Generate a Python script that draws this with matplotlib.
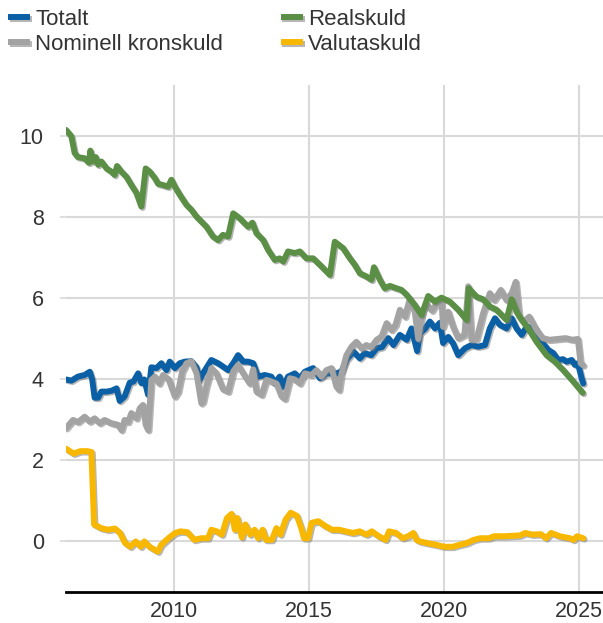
import matplotlib
matplotlib.use("Agg")
import matplotlib.pyplot as plt
import matplotlib.patheffects as pe

plt.rcParams['font.family'] = ['Liberation Sans', 'DejaVu Sans']

# ---- data ----
real_x = [2006.0, 2006.2, 2006.32, 2006.44, 2006.69, 2006.85, 2006.9, 2007.0, 2007.1, 2007.19,
          2007.31, 2007.5, 2007.68, 2007.8, 2007.89, 2008.05, 2008.24, 2008.42, 2008.61, 2008.79,
          2008.95, 2009.1, 2009.29, 2009.41, 2009.59, 2009.78, 2009.9, 2010.03, 2010.21, 2010.46,
          2010.64, 2010.83, 2010.95, 2011.2, 2011.44, 2011.63, 2011.81, 2012.0, 2012.19, 2012.43,
          2012.74, 2012.9, 2013.05, 2013.3, 2013.48, 2013.73, 2013.91, 2014.04, 2014.22, 2014.47,
          2014.66, 2014.9, 2015.15, 2015.46, 2015.77, 2015.95, 2016.26, 2016.51, 2016.69, 2016.88,
          2017.13, 2017.31, 2017.4, 2017.62, 2017.8, 2017.99, 2018.24, 2018.42, 2018.61, 2018.91,
          2019.16, 2019.41, 2019.66, 2019.9, 2020.21, 2020.52, 2020.83, 2020.91, 2021.2, 2021.44,
          2021.69, 2021.94, 2022.19, 2022.31, 2022.5, 2022.68, 2022.87, 2023.11, 2023.42, 2023.79,
          2024.1, 2024.41, 2024.78, 2025.13]
real_y = [10.16, 10.0, 9.59, 9.49, 9.46, 9.35, 9.65, 9.38, 9.49, 9.3,
          9.38, 9.21, 9.13, 9.05, 9.27, 9.13, 9.0, 8.8, 8.6, 8.27,
          9.21, 9.13, 8.97, 8.83, 8.8, 8.76, 8.93, 8.76, 8.56, 8.31,
          8.19, 8.02, 7.94, 7.77, 7.53, 7.44, 7.57, 7.53, 8.1, 7.98,
          7.77, 7.87, 7.61, 7.44, 7.2, 6.95, 6.99, 6.91, 7.16, 7.12,
          7.16, 6.99, 6.99, 6.79, 6.58, 7.4, 7.24, 6.99, 6.83, 6.62,
          6.54, 6.46, 6.77, 6.46, 6.25, 6.31, 6.25, 6.21, 6.09, 5.84,
          5.59, 6.06, 5.92, 6.02, 5.92, 5.72, 5.47, 6.25, 6.04, 5.98,
          5.8, 5.72, 5.55, 5.47, 5.98, 5.67, 5.47, 5.26, 4.93, 4.6,
          4.44, 4.23, 3.95, 3.67]

tot_x = [2006.0, 2006.2, 2006.44, 2006.69, 2006.88, 2006.97, 2007.06, 2007.19, 2007.31, 2007.5,
         2007.68, 2007.87, 2007.99, 2008.17, 2008.36, 2008.5, 2008.67, 2008.79, 2008.9, 2009.04,
         2009.16, 2009.35, 2009.53, 2009.72, 2009.84, 2010.03, 2010.21, 2010.4, 2010.64, 2010.83,
         2010.95, 2011.07, 2011.38, 2011.63, 2011.81, 2012.0, 2012.19, 2012.37, 2012.56, 2012.74,
         2012.93, 2013.11, 2013.36, 2013.6, 2013.73, 2013.91, 2014.04, 2014.22, 2014.47, 2014.66,
         2014.84, 2015.15, 2015.4, 2015.65, 2016.01, 2016.2, 2016.38, 2016.64, 2016.88, 2017.06,
         2017.3, 2017.5, 2017.7, 2017.93, 2018.12, 2018.36, 2018.61, 2018.79, 2019.0, 2019.1,
         2019.29, 2019.47, 2019.66, 2019.84, 2019.96, 2020.15, 2020.33, 2020.52, 2020.77, 2021.01,
         2021.26, 2021.51, 2021.69, 2021.88, 2022.06, 2022.31, 2022.5, 2022.68, 2022.87, 2023.05,
         2023.25, 2023.42, 2023.61, 2023.85, 2024.04, 2024.22, 2024.4, 2024.53, 2024.72, 2024.84,
         2024.95, 2025.09, 2025.15]
tot_y = [4.0, 3.97, 4.07, 4.11, 4.19, 4.0, 3.55, 3.55, 3.7, 3.7,
         3.72, 3.78, 3.47, 3.58, 3.92, 3.95, 4.15, 3.91, 4.0, 3.62,
         4.3, 4.28, 4.4, 4.23, 4.44, 4.28, 4.4, 4.44, 4.45, 4.3,
         3.99, 4.15, 4.48, 4.4, 4.32, 4.23, 4.4, 4.6, 4.44, 4.44,
         4.4, 4.07, 4.11, 4.07, 3.9, 4.07, 3.82, 4.07, 4.15, 4.03,
         4.19, 4.28, 4.03, 4.15, 4.15, 4.2, 4.48, 4.69, 4.52, 4.65,
         4.6, 4.77, 4.8, 5.02, 4.85, 5.1, 4.98, 5.26, 4.7, 5.14,
         5.25, 5.43, 5.26, 5.4, 4.9, 5.05, 4.89, 4.6, 4.77, 4.85,
         4.81, 4.85, 5.26, 5.51, 5.35, 5.26, 5.51, 5.26, 5.1, 5.3,
         5.28, 5.22, 4.93, 4.73, 4.65, 4.48, 4.5, 4.44, 4.48, 4.36,
         4.4, 4.03, 3.9]

nom_x = [2006.0, 2006.26, 2006.45, 2006.69, 2006.88, 2007.06, 2007.25, 2007.43, 2007.68, 2007.93,
         2008.05, 2008.17, 2008.3, 2008.42, 2008.61, 2008.73, 2008.85, 2008.95, 2009.04, 2009.16,
         2009.29, 2009.45, 2009.59, 2009.8, 2010.03, 2010.15, 2010.3, 2010.46, 2010.64, 2010.83,
         2011.01, 2011.07, 2011.2, 2011.38, 2011.57, 2011.81, 2012.0, 2012.19, 2012.37, 2012.56,
         2012.8, 2012.93, 2013.05, 2013.24, 2013.42, 2013.6, 2013.79, 2013.98, 2014.1, 2014.29,
         2014.47, 2014.66, 2014.84, 2015.09, 2015.27, 2015.46, 2015.64, 2015.83, 2016.01, 2016.11,
         2016.2, 2016.38, 2016.57, 2016.75, 2016.94, 2017.12, 2017.3, 2017.5, 2017.68, 2017.87,
         2018.05, 2018.2, 2018.36, 2018.55, 2018.73, 2018.91, 2019.04, 2019.2, 2019.35, 2019.55,
         2019.72, 2019.9, 2019.96, 2020.15, 2020.33, 2020.52, 2020.75, 2020.89, 2021.01, 2021.2,
         2021.44, 2021.69, 2021.85, 2022.1, 2022.3, 2022.5, 2022.65, 2022.78, 2022.95, 2023.15,
         2023.42, 2023.65, 2023.9, 2024.2, 2024.5, 2024.75, 2024.95, 2025.05, 2025.15]
nom_y = [2.8, 3.0, 2.95, 3.08, 2.96, 3.04, 2.92, 3.0, 2.92, 2.88,
         2.75, 3.0, 2.95, 3.17, 3.04, 3.29, 3.37, 2.88, 2.75, 3.99,
         4.07, 3.9, 4.11, 4.0, 3.58, 3.7, 4.2, 4.4, 4.45, 4.15,
         3.41, 3.45, 3.85, 4.28, 4.15, 3.76, 3.7, 4.2, 4.36, 4.15,
         3.9, 4.25, 3.7, 3.62, 3.99, 3.95, 3.9, 3.58, 3.52, 4.03,
         4.0, 3.9, 4.15, 4.11, 4.23, 4.07, 4.23, 4.28, 3.82, 3.74,
         4.15, 4.6, 4.81, 4.93, 4.77, 4.85, 4.8, 4.98, 5.06, 5.39,
         5.22, 5.35, 5.72, 5.55, 6.0, 5.67, 5.0, 5.7, 5.85, 5.7,
         5.88, 5.96, 5.3, 5.67, 5.3, 5.02, 5.1, 6.3, 4.98, 5.0,
         5.63, 6.13, 5.96, 6.21, 5.96, 6.13, 6.41, 5.55, 5.43, 5.55,
         5.22, 5.02, 4.98, 5.0, 5.02, 4.98, 5.0, 4.4, 4.35]

val_x = [2006.0, 2006.28, 2006.53, 2006.79, 2006.94, 2007.04, 2007.3, 2007.55, 2007.81, 2008.0,
         2008.19, 2008.38, 2008.58, 2008.77, 2008.9, 2009.09, 2009.4, 2009.53, 2009.79, 2010.04,
         2010.24, 2010.49, 2010.75, 2011.0, 2011.26, 2011.38, 2011.58, 2011.77, 2011.96, 2012.13,
         2012.25, 2012.34, 2012.51, 2012.64, 2012.82, 2012.98, 2013.11, 2013.28, 2013.4, 2013.62,
         2013.79, 2013.94, 2014.13, 2014.32, 2014.55, 2014.71, 2014.81, 2014.96, 2015.09, 2015.34,
         2015.6, 2015.85, 2016.11, 2016.36, 2016.62, 2016.87, 2017.13, 2017.32, 2017.58, 2017.83,
         2017.96, 2018.22, 2018.47, 2018.67, 2018.86, 2018.98, 2019.11, 2019.37, 2019.69, 2020.0,
         2020.32, 2020.58, 2020.83, 2021.09, 2021.34, 2021.66, 2021.85, 2022.24, 2022.81, 2023.0,
         2023.26, 2023.58, 2023.77, 2023.96, 2024.28, 2024.66, 2024.79, 2024.92, 2025.15]
val_y = [2.29, 2.17, 2.23, 2.23, 2.21, 0.42, 0.33, 0.29, 0.32, 0.21,
         -0.04, -0.13, 0.0, -0.13, 0.0, -0.13, -0.25, -0.08, 0.08, 0.21,
         0.25, 0.23, 0.04, 0.08, 0.08, 0.29, 0.25, 0.17, 0.58, 0.68,
         0.29, 0.58, 0.1, 0.42, 0.17, 0.29, 0.08, 0.29, 0.04, 0.04,
         0.33, 0.17, 0.54, 0.71, 0.63, 0.33, 0.08, 0.08, 0.46, 0.5,
         0.38, 0.29, 0.29, 0.25, 0.21, 0.25, 0.17, 0.25, 0.13, 0.04,
         0.25, 0.21, 0.08, 0.13, 0.21, 0.04, 0.0, -0.04, -0.08, -0.13,
         -0.13, -0.08, -0.04, 0.04, 0.08, 0.08, 0.13, 0.13, 0.15, 0.21,
         0.17, 0.18, 0.08, 0.21, 0.13, 0.08, 0.04, 0.13, 0.08]

labels = ["Totalt", "Nominell kronskuld", "Realskuld", "Valutaskuld"]
colors = ["#0B5FA5", "#A3A3A3", "#5A8F45", "#F9B800"]
x_ticks = [2010, 2015, 2020, 2025]
y_ticks = [0, 2, 4, 6, 8, 10]

# ---- figure ----
fig = plt.figure(figsize=(6.03, 6.23), dpi=100)
ax = fig.add_axes([66 / 603, (623 - 591.5) / 623, 1 - 66 / 603, (591.5 - 85) / 623])

shadow = [pe.SimpleLineShadow(offset=(1.0, -1.0), shadow_color="#7a7a7a", alpha=0.55),
          pe.Normal()]

series = [(tot_x, tot_y), (nom_x, nom_y), (real_x, real_y), (val_x, val_y)]
for (xs, ys), lab, col in zip(series, labels, colors):
    ax.plot(xs, ys, color=col, lw=4.3, label=lab, solid_joinstyle="round",
            solid_capstyle="round", path_effects=shadow)

ax.set_xlim(2006.0, 2025.88)
ax.set_ylim(-1.235, 11.27)
ax.set_xticks(x_ticks)
ax.set_yticks(y_ticks)
ax.set_xticklabels([str(t) for t in x_ticks])
ax.set_yticklabels([str(t) for t in y_ticks])

ax.grid(True, color="#d9d9d9", lw=1.5)
ax.set_axisbelow(True)
for s in ["top", "right", "left"]:
    ax.spines[s].set_visible(False)
ax.spines["bottom"].set_color("black")
ax.spines["bottom"].set_linewidth(2)

ax.tick_params(axis="x", length=0, pad=7, labelsize=15.5, labelcolor="#333333")
ax.tick_params(axis="y", length=4, width=1.2, color="#d9d9d9", pad=12,
               labelsize=15.5, labelcolor="#333333")

handles, labs = ax.get_legend_handles_labels()
leg = fig.legend(handles, labs, loc="upper left",
                 bbox_to_anchor=(6 / 603, 1 - 7 / 623),
                 ncol=2, frameon=False, fontsize=16, handlelength=1.0,
                 handletextpad=0.22, columnspacing=2.6, labelspacing=0.18,
                 borderaxespad=0.0, borderpad=0.1)
for h in leg.legend_handles:
    h.set_solid_capstyle("butt")
for t in leg.get_texts():
    t.set_color("#333333")

fig.savefig("out.png", dpi=100)
